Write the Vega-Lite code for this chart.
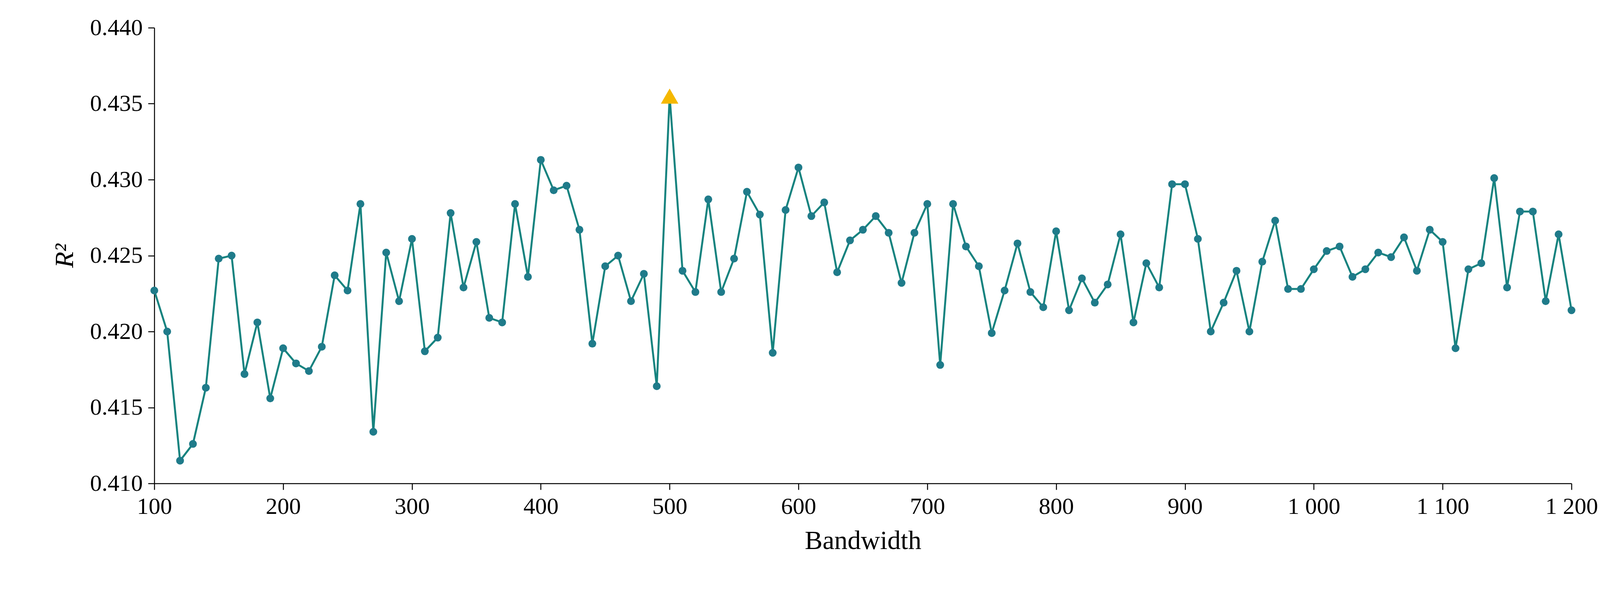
{"$schema":"https://vega.github.io/schema/vega-lite/v6.json","width":3628,"height":1167,"autosize":{"type":"none"},"padding":{"left":395,"top":71,"right":106,"bottom":319},"background":"white","config":{"view":{"stroke":null},"axis":{"grid":false,"domainColor":"black","domainWidth":2.5,"tickColor":"black","tickWidth":2.5,"tickSize":16,"labelFont":"Liberation Serif","labelFontSize":60,"labelColor":"black","labelFlush":false,"titleFont":"Liberation Serif","titleFontSize":68,"titleColor":"black","titleFontWeight":"normal","labelPadding":14}},"data":{"values":[
{"x":100,"r2":0.4227},{"x":110,"r2":0.4200},{"x":120,"r2":0.4115},{"x":130,"r2":0.4126},{"x":140,"r2":0.4163},{"x":150,"r2":0.4248},{"x":160,"r2":0.4250},{"x":170,"r2":0.4172},{"x":180,"r2":0.4206},{"x":190,"r2":0.4156},{"x":200,"r2":0.4189},{"x":210,"r2":0.4179},{"x":220,"r2":0.4174},{"x":230,"r2":0.4190},{"x":240,"r2":0.4237},{"x":250,"r2":0.4227},{"x":260,"r2":0.4284},{"x":270,"r2":0.4134},{"x":280,"r2":0.4252},{"x":290,"r2":0.4220},{"x":300,"r2":0.4261},{"x":310,"r2":0.4187},{"x":320,"r2":0.4196},{"x":330,"r2":0.4278},{"x":340,"r2":0.4229},{"x":350,"r2":0.4259},{"x":360,"r2":0.4209},{"x":370,"r2":0.4206},{"x":380,"r2":0.4284},{"x":390,"r2":0.4236},{"x":400,"r2":0.4313},{"x":410,"r2":0.4293},{"x":420,"r2":0.4296},{"x":430,"r2":0.4267},{"x":440,"r2":0.4192},{"x":450,"r2":0.4243},{"x":460,"r2":0.4250},{"x":470,"r2":0.4220},{"x":480,"r2":0.4238},{"x":490,"r2":0.4164},{"x":500,"r2":0.4355},{"x":510,"r2":0.4240},{"x":520,"r2":0.4226},{"x":530,"r2":0.4287},{"x":540,"r2":0.4226},{"x":550,"r2":0.4248},{"x":560,"r2":0.4292},{"x":570,"r2":0.4277},{"x":580,"r2":0.4186},{"x":590,"r2":0.4280},{"x":600,"r2":0.4308},{"x":610,"r2":0.4276},{"x":620,"r2":0.4285},{"x":630,"r2":0.4239},{"x":640,"r2":0.4260},{"x":650,"r2":0.4267},{"x":660,"r2":0.4276},{"x":670,"r2":0.4265},{"x":680,"r2":0.4232},{"x":690,"r2":0.4265},{"x":700,"r2":0.4284},{"x":710,"r2":0.4178},{"x":720,"r2":0.4284},{"x":730,"r2":0.4256},{"x":740,"r2":0.4243},{"x":750,"r2":0.4199},{"x":760,"r2":0.4227},{"x":770,"r2":0.4258},{"x":780,"r2":0.4226},{"x":790,"r2":0.4216},{"x":800,"r2":0.4266},{"x":810,"r2":0.4214},{"x":820,"r2":0.4235},{"x":830,"r2":0.4219},{"x":840,"r2":0.4231},{"x":850,"r2":0.4264},{"x":860,"r2":0.4206},{"x":870,"r2":0.4245},{"x":880,"r2":0.4229},{"x":890,"r2":0.4297},{"x":900,"r2":0.4297},{"x":910,"r2":0.4261},{"x":920,"r2":0.4200},{"x":930,"r2":0.4219},{"x":940,"r2":0.4240},{"x":950,"r2":0.4200},{"x":960,"r2":0.4246},{"x":970,"r2":0.4273},{"x":980,"r2":0.4228},{"x":990,"r2":0.4228},{"x":1000,"r2":0.4241},{"x":1010,"r2":0.4253},{"x":1020,"r2":0.4256},{"x":1030,"r2":0.4236},{"x":1040,"r2":0.4241},{"x":1050,"r2":0.4252},{"x":1060,"r2":0.4249},{"x":1070,"r2":0.4262},{"x":1080,"r2":0.4240},{"x":1090,"r2":0.4267},{"x":1100,"r2":0.4259},{"x":1110,"r2":0.4189},{"x":1120,"r2":0.4241},{"x":1130,"r2":0.4245},{"x":1140,"r2":0.4301},{"x":1150,"r2":0.4229},{"x":1160,"r2":0.4279},{"x":1170,"r2":0.4279},{"x":1180,"r2":0.4220},{"x":1190,"r2":0.4264},{"x":1200,"r2":0.4214}]},
"encoding":{"x":{"field":"x","type":"quantitative","scale":{"domain":[100,1200],"nice":false,"zero":false},"axis":{"title":"Bandwidth","values":[100,200,300,400,500,600,700,800,900,1000,1100,1200],"labelExpr":"replace(format(datum.value, ','), ',', ' ')","titlePadding":24}},"y":{"field":"r2","type":"quantitative","scale":{"domain":[0.41,0.44],"nice":false,"zero":false},"axis":{"title":"R²","titleFontStyle":"italic","values":[0.41,0.415,0.42,0.425,0.43,0.435,0.44],"format":".3f","titlePadding":30}}},
"layer":[
{"mark":{"type":"line","color":"#16837f","strokeWidth":5}},
{"transform":[{"filter":"datum.x != 500"}],"mark":{"type":"circle","color":"#1f7b8a","opacity":1,"size":400}},
{"transform":[{"filter":"datum.x == 500"}],"mark":{"type":"point","shape":"triangle-up","filled":true,"color":"#f5b800","opacity":1,"size":2000}}
]}
